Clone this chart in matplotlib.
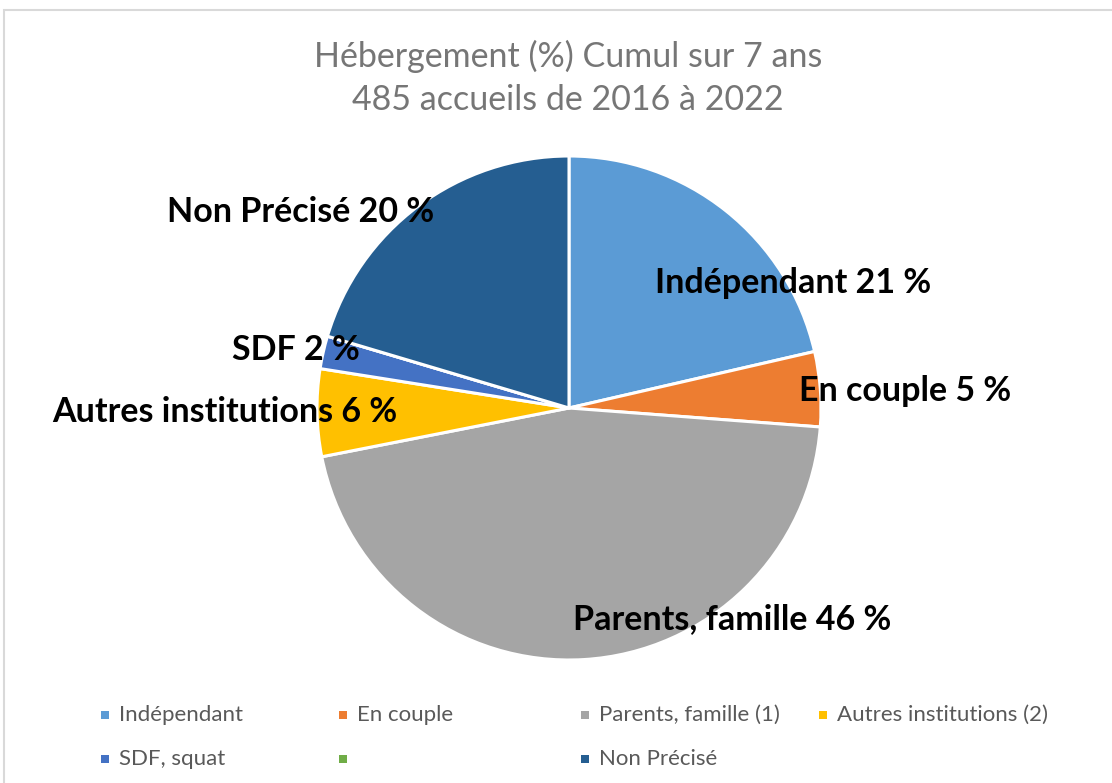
import matplotlib
matplotlib.use("Agg")
import matplotlib.pyplot as plt
from matplotlib.patches import Rectangle

categories = ["Indépendant", "En couple", "Parents, famille (1)", "Autres institutions (2)",
              "SDF, squat", "", "Non Précisé"]
values = [21.4, 4.8, 45.7, 5.6, 2.1, 0.0, 20.4]
label_texts = ["Indépendant 21 %", "En couple 5 %", "Parents, famille 46 %",
               "Autres institutions 6 %", "SDF 2 %", None, "Non Précisé 20 %"]
colors = ["#5B9BD5", "#ED7D31", "#A5A5A5", "#FFC000", "#4472C4", "#70AD47", "#255E91"]
title = "Hébergement (%) Cumul sur 7 ans\n485 accueils de 2016 à 2022"

W, H = 1112, 783
fig = plt.figure(figsize=(W / 100, H / 100), dpi=100)
fig.patch.set_facecolor("white")

# chart border
fig.patches.append(Rectangle((4 / W, -0.01), 1.05, 1 - 10 / H + 0.01, transform=fig.transFigure,
                             fill=False, edgecolor="#D9D9D9", linewidth=1.5))

cx, cy, R = 569, 408, 252
ax = fig.add_axes([(cx - R) / W, (H - cy - R) / H, 2 * R / W, 2 * R / H])
wedges, _ = ax.pie(values, colors=colors, startangle=90, counterclock=False,
                   wedgeprops=dict(edgecolor="white", linewidth=2.2), radius=1.0)
ax.set_xlim(-1, 1)
ax.set_ylim(-1, 1)
ax.axis("off")

# label placement (data coords of the pie axes, radius = 1)
label_pos = [(0.889, 0.496), (1.333, 0.067), (0.647, -0.837), (-1.365, -0.016),
             (-1.083, 0.230), None, (-1.067, 0.778)]
for txt, pos in zip(label_texts, label_pos):
    if txt is None:
        continue
    ax.text(pos[0], pos[1], txt, ha="center", va="center", fontsize=24.5,
            fontweight="bold", family=["Lato", "DejaVu Sans"], color="black", clip_on=False)

fig.text(568 / W, 1 - 78 / H, title, ha="center", va="center", fontsize=24.5,
         color="#767676", family=["Lato", "DejaVu Sans"], linespacing=1.42)

# legend
leg_x = [105, 343, 585, 823]
leg_y = [715, 759]
for i, (name, col) in enumerate(zip(categories, colors)):
    r, c = divmod(i, 4)
    x, y = leg_x[c], leg_y[r]
    fig.patches.append(Rectangle(((x - 4) / W, 1 - (y + 4) / H), 8 / W, 8 / H,
                                 transform=fig.transFigure, facecolor=col, edgecolor="none"))
    fig.text((x + 14) / W, 1 - y / H, name, ha="left", va="center", fontsize=16,
             color="#595959", family=["Lato", "DejaVu Sans"])

fig.savefig("out.png", dpi=100)
